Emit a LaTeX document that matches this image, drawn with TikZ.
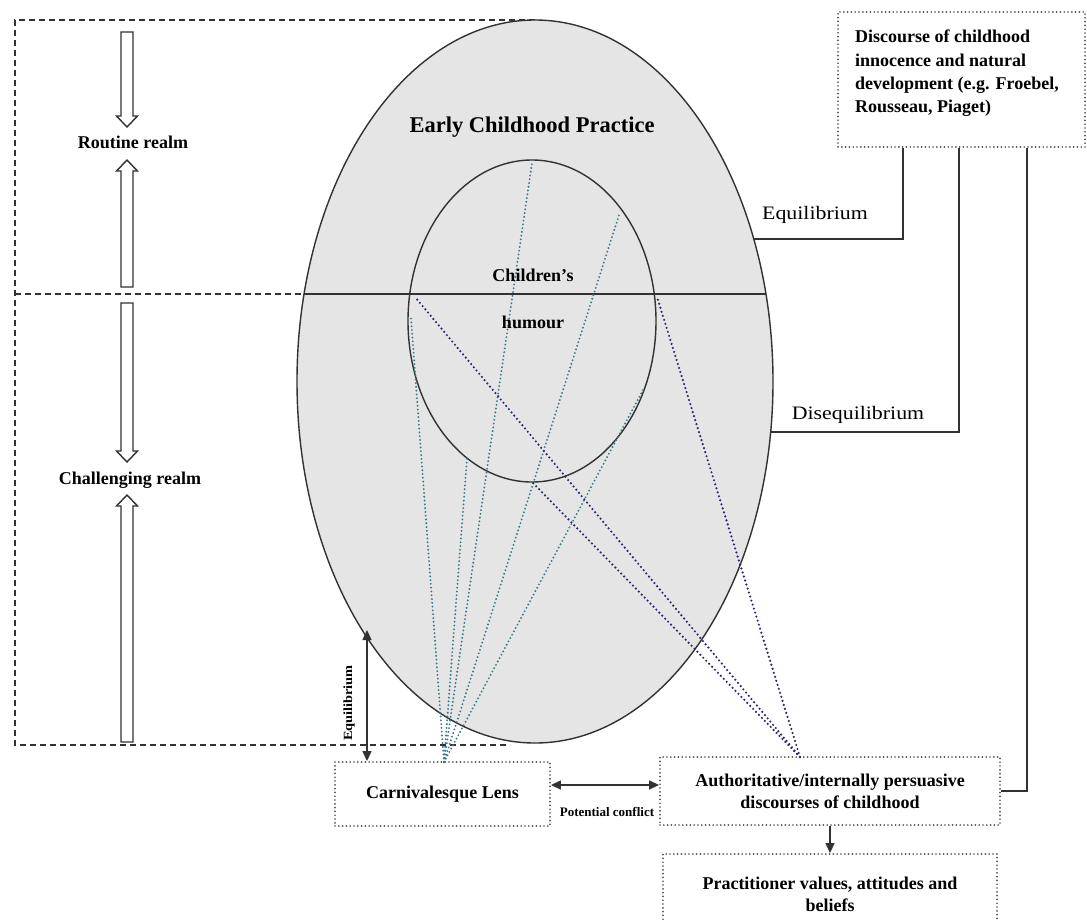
\documentclass[tikz,border=0pt]{standalone}
\usepackage{fontspec}
\setmainfont{Liberation Serif}
\newfontfamily\plainfont[FakeStretch=1.15]{Liberation Serif}
\usetikzlibrary{arrows.meta,shapes.geometric}
\definecolor{inkgray}{RGB}{50,50,50}
\definecolor{practicefill}{RGB}{229,229,229}
\definecolor{lensteal}{RGB}{60,120,140}
\definecolor{voicenavy}{RGB}{40,40,110}
\definecolor{boxdots}{RGB}{80,80,80}

% hollow realm arrows: x, tail y, tip y
\newcommand{\realmdown}[3]{%
  \draw[realmarrow] ({#1-6},#2) -- ({#1-6},{#3-11}) -- ({#1-10.5},{#3-11}) -- (#1,#3)
    -- ({#1+10.5},{#3-11}) -- ({#1+6},{#3-11}) -- ({#1+6},#2) -- cycle;}
\newcommand{\realmup}[3]{%
  \draw[realmarrow] ({#1-6},#2) -- ({#1-6},{#3+11}) -- ({#1-10.5},{#3+11}) -- (#1,#3)
    -- ({#1+10.5},{#3+11}) -- ({#1+6},{#3+11}) -- ({#1+6},#2) -- cycle;}

\begin{document}
\begin{tikzpicture}[x=1pt,y=-1pt,
  realmarrow/.style={draw=inkgray,line width=1.4pt,fill=white},
  realmframe/.style={draw=inkgray,line width=1.3pt,dash pattern=on 6pt off 4pt},
  rim/.style={draw=inkgray,line width=1.4pt},
  lensray/.style={draw=lensteal,line width=2.1pt,dash pattern=on 0pt off 3.8pt,line cap=round},
  voiceray/.style={draw=voicenavy,line width=2.4pt,dash pattern=on 0pt off 4.2pt,line cap=round},
  dotbox/.style={draw=boxdots,line width=1.9pt,dash pattern=on 0pt off 3.8pt,line cap=round,
    fill=white,inner sep=0pt,align=center,font=\bfseries\fontsize{18}{22}\selectfont},
  realmtext/.style={inner sep=0pt,font=\bfseries\fontsize{18}{22}\selectfont},
  plaintext/.style={inner sep=0pt,font=\plainfont\fontsize{19}{22}\selectfont},
  link/.style={draw=inkgray,line width=1.4pt},
  pointer/.style={draw=inkgray,line width=1.4pt,-{Triangle[width=9pt,length=10pt]}},
  twoway/.style={draw=inkgray,line width=1.4pt,{Triangle[width=9pt,length=10pt]}-{Triangle[width=9pt,length=10pt]}}]
\path[use as bounding box] (0,0) rectangle (1087,919);
\fill[white] (0,0) rectangle (1087,919);

% routine / challenging frame
\draw[realmframe] (535,20) -- (15,20) -- (15,745) -- (510,745);
\draw[realmframe] (15,294) -- (304,294);

% practice and humour
\node[ellipse,draw=inkgray,line width=1.4pt,fill=practicefill,inner sep=0pt,
  minimum width=476,minimum height=723] (practice) at (535,381.5) {};
\node[ellipse,draw=inkgray,line width=1.4pt,fill=practicefill,inner sep=0pt,
  minimum width=248,minimum height=322] (humour) at (532,321) {};
\draw[rim] (304,294) -- (766,294);

% boxes
\node[dotbox,minimum width=247,minimum height=135] (discourse) at (961.5,79.5) {};
\node[dotbox,minimum width=215,minimum height=64] (lens) at (442.5,794) {Carnivalesque Lens};
\node[dotbox,minimum width=340,minimum height=68] (auth) at (830,791)
  {Authoritative/internally persuasive\\discourses of childhood};
\node[dotbox,minimum width=334,minimum height=80] (values) at (830,894)
  {Practitioner values, attitudes and\\beliefs};

% rays from the lens and from the discourses
\coordinate (lensfocus) at (444,762);
\foreach \x/\y in {532/163,620/212,411/318,467/458,643/390}
  \draw[lensray] (lensfocus) -- (\x,\y);
\coordinate (authfocus) at (800,757);
\foreach \x/\y in {415/297,533/483,657/297}
  \draw[voiceray] (authfocus) -- (\x,\y);

% realm arrows
\realmdown{127}{32}{127}
\realmup{127}{287}{160}
\realmdown{127}{303}{462}
\realmup{127}{742}{495}

\node[realmtext] (routine) at (133,142) {Routine realm};
\node[realmtext] (challenging) at (130,480) {Challenging realm};
\node[inner sep=0pt,font=\bfseries\fontsize{22.5}{26}\selectfont] (practicetitle) at (532,127) {Early Childhood Practice};
\node[realmtext] (childrens) at (533,275) {Children’s};
\node[realmtext] (humourtext) at (533,322) {humour};

\node[realmtext,anchor=north west,align=left,font=\bfseries\fontsize{18}{23.3}\selectfont] (discoursetext) at (855,30)
  {Discourse of childhood\\innocence and natural\\development (e.g. Froebel,\\Rousseau, Piaget)};

% equilibrium links
\coordinate (equiRim) at (754,239);
\coordinate (disequiRim) at (771,432);
\draw[link] (903,0 |- discourse.south) |- (equiRim);
\draw[link] (959,0 |- discourse.south) |- (disequiRim);
\draw[link] (1027,0 |- discourse.south) |- (auth.east);
\node[plaintext] (equitext) at (815,215) {Equilibrium};
\node[plaintext] (disequitext) at (858,415) {Disequilibrium};

% lens links
\coordinate (lensRim) at (367,630);
\draw[twoway] (lensRim) -- (lensRim |- lens.north);
\node[plaintext,font=\plainfont\bfseries\fontsize{12.5}{15}\selectfont,rotate=90] (lensequi) at (349,703) {Equilibrium};
\coordinate (conflictline) at (600,785);
\draw[twoway] (lens.east |- conflictline) -- (auth.west |- conflictline);
\node[realmtext,font=\bfseries\fontsize{13}{15}\selectfont] (conflict) at (607,812) {Potential conflict};
\draw[pointer] (auth.south) -- (values.north);
\end{tikzpicture}
\end{document}
